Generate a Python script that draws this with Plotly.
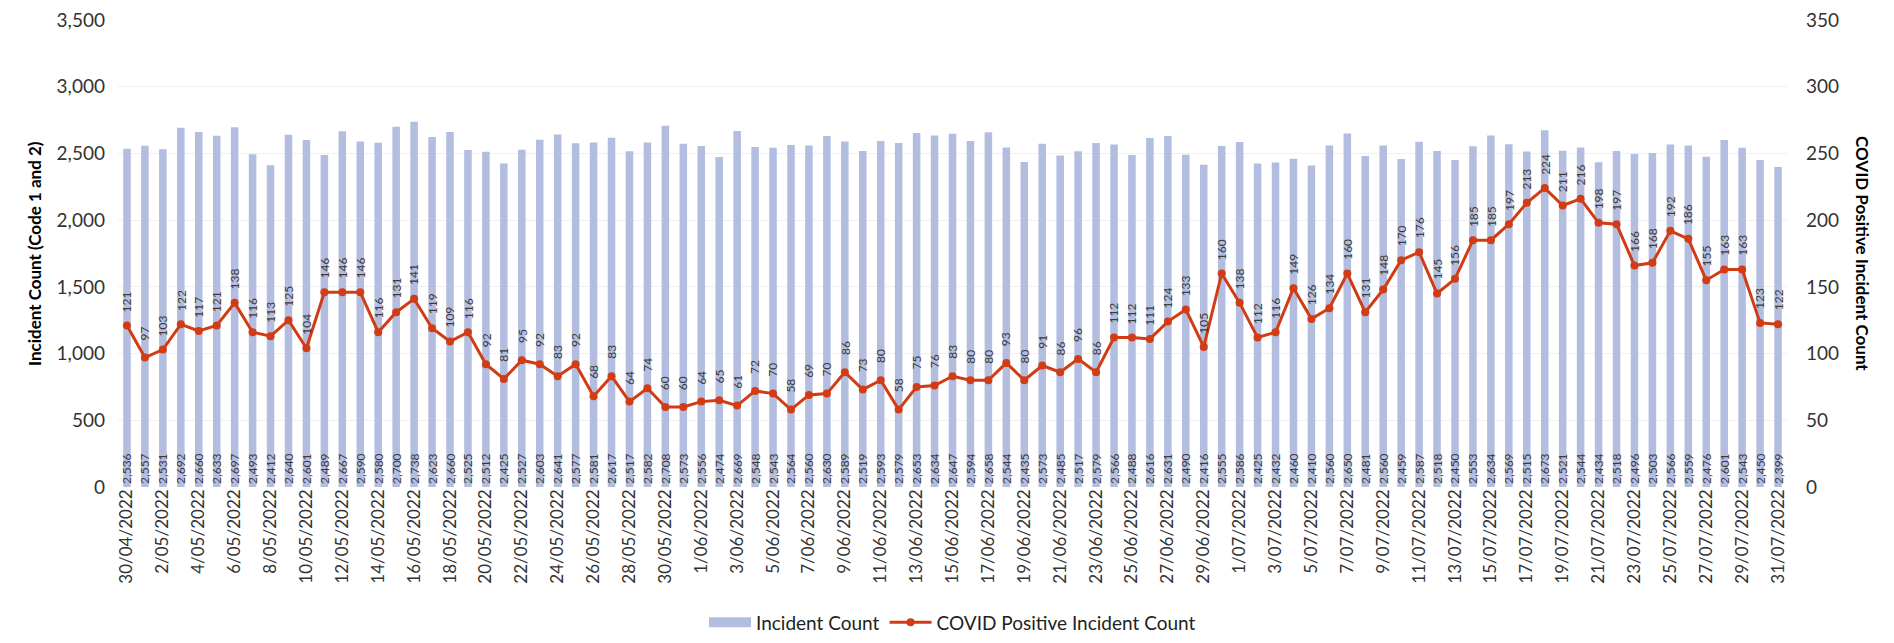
import datetime as dt
import plotly.graph_objects as go
from plotly.subplots import make_subplots

start = dt.date(2022, 4, 30)
dates = [start + dt.timedelta(days=i) for i in range(93)]
date_labels = [f"{d.day}/{d.month:02d}/{d.year}" for d in dates]

incident_count = [
    2536, 2557, 2531, 2692, 2660, 2633, 2697, 2493, 2412, 2640,
    2601, 2489, 2667, 2590, 2580, 2700, 2738, 2623, 2660, 2525,
    2512, 2425, 2527, 2603, 2641, 2577, 2581, 2617, 2517, 2582,
    2708, 2573, 2556, 2474, 2669, 2548, 2543, 2564, 2560, 2630,
    2589, 2519, 2593, 2579, 2653, 2634, 2647, 2594, 2658, 2544,
    2435, 2573, 2485, 2517, 2579, 2566, 2488, 2616, 2631, 2490,
    2416, 2555, 2586, 2425, 2432, 2460, 2410, 2560, 2650, 2481,
    2560, 2459, 2587, 2518, 2450, 2553, 2634, 2569, 2515, 2673,
    2521, 2544, 2434, 2518, 2496, 2503, 2566, 2559, 2476, 2601,
    2543, 2450, 2399,
]

covid_count = [
    121, 97, 103, 122, 117, 121, 138, 116, 113, 125,
    104, 146, 146, 146, 116, 131, 141, 119, 109, 116,
    92, 81, 95, 92, 83, 92, 68, 83, 64, 74,
    60, 60, 64, 65, 61, 72, 70, 58, 69, 70,
    86, 73, 80, 58, 75, 76, 83, 80, 80, 93,
    80, 91, 86, 96, 86, 112, 112, 111, 124, 133,
    105, 160, 138, 112, 116, 149, 126, 134, 160, 131,
    148, 170, 176, 145, 156, 185, 185, 197, 213, 224,
    211, 216, 198, 197, 166, 168, 192, 186, 155, 163,
    163, 123, 122,
]

tick_labels = date_labels[::2]

FONT = "Lato"
BAR_COLOR = "#b3bde0"
LINE_COLOR = "#d23c14"
TEXT_COLOR = "#3a3a3a"

fig = make_subplots(specs=[[{"secondary_y": True}]])

fig.add_trace(
    go.Bar(
        x=date_labels,
        y=incident_count,
        name="Incident Count",
        showlegend=False,
        marker=dict(color=BAR_COLOR, line=dict(width=0)),
        text=[f"{v:,}" for v in incident_count],
        textposition="inside",
        insidetextanchor="start",
        textangle=-90,
        constraintext="none",
        insidetextfont=dict(family=FONT, size=12, color=TEXT_COLOR),
    ),
    secondary_y=False,
)

# legend-only entry drawn as a wide swatch, like the reference
fig.add_trace(
    go.Scatter(
        x=[None], y=[None],
        name="Incident Count",
        mode="lines",
        line=dict(color=BAR_COLOR, width=11),
        legendrank=1,
    ),
    secondary_y=False,
)

fig.add_trace(
    go.Scatter(
        x=date_labels,
        y=covid_count,
        name="COVID Positive Incident Count",
        mode="lines+markers",
        line=dict(color=LINE_COLOR, width=3),
        marker=dict(color=LINE_COLOR, size=8),
        legendrank=2,
    ),
    secondary_y=True,
)

for d, v in zip(date_labels, covid_count):
    fig.add_annotation(
        x=d, y=v, xref="x", yref="y2",
        text=str(v), showarrow=False, textangle=-90,
        yshift=24, font=dict(family=FONT, size=12, color=TEXT_COLOR),
    )

fig.add_annotation(
    x=-0.0575, y=0.5, xref="paper", yref="paper",
    text="<b>Incident Count (Code 1 and 2)</b>",
    showarrow=False, textangle=-90,
    font=dict(family=FONT, size=17, color="#000000"),
)
fig.add_annotation(
    x=1.0527, y=0.5, xref="paper", yref="paper",
    text="<b>COVID Positive Incident Count</b>",
    showarrow=False, textangle=90,
    font=dict(family=FONT, size=17, color="#000000"),
)

fig.update_layout(
    width=1878,
    height=627,
    margin=dict(l=110, r=99, t=12, b=148, autoexpand=False),
    plot_bgcolor="white",
    paper_bgcolor="white",
    font=dict(family=FONT, size=18, color="#404040"),
    bargap=0.58,
    showlegend=True,
    legend=dict(
        orientation="h",
        x=0.5, xanchor="center",
        yref="container", y=0.02, yanchor="middle",
        font=dict(family=FONT, size=19, color="#222222"),
        itemwidth=42,
        tracegroupgap=0,
    ),
)

fig.update_xaxes(
    domain=[0, 1],
    type="category",
    range=[-0.5, len(date_labels) - 0.5],
    autorange=False,
    tickmode="array",
    tickvals=tick_labels,
    ticktext=tick_labels,
    tickangle=-90,
    tickfont=dict(family=FONT, size=17, color="#333333"),
    showgrid=False,
    showline=False,
    ticks="",
    ticklabelstandoff=-2,
    automargin=False,
)

fig.update_yaxes(
    range=[0, 3500],
    dtick=500,
    tickformat=",",
    showgrid=True,
    gridcolor="#f0f0f0",
    zeroline=False,
    tickfont=dict(family=FONT, size=19, color="#333333"),
    ticklabelstandoff=12,
    ticklabeloverflow="allow",
    automargin=False,
    secondary_y=False,
)

fig.update_yaxes(
    range=[0, 350],
    dtick=50,
    showgrid=False,
    zeroline=False,
    tickfont=dict(family=FONT, size=19, color="#333333"),
    ticklabelstandoff=18,
    ticklabeloverflow="allow",
    automargin=False,
    secondary_y=True,
)

fig.write_html("out.html")
